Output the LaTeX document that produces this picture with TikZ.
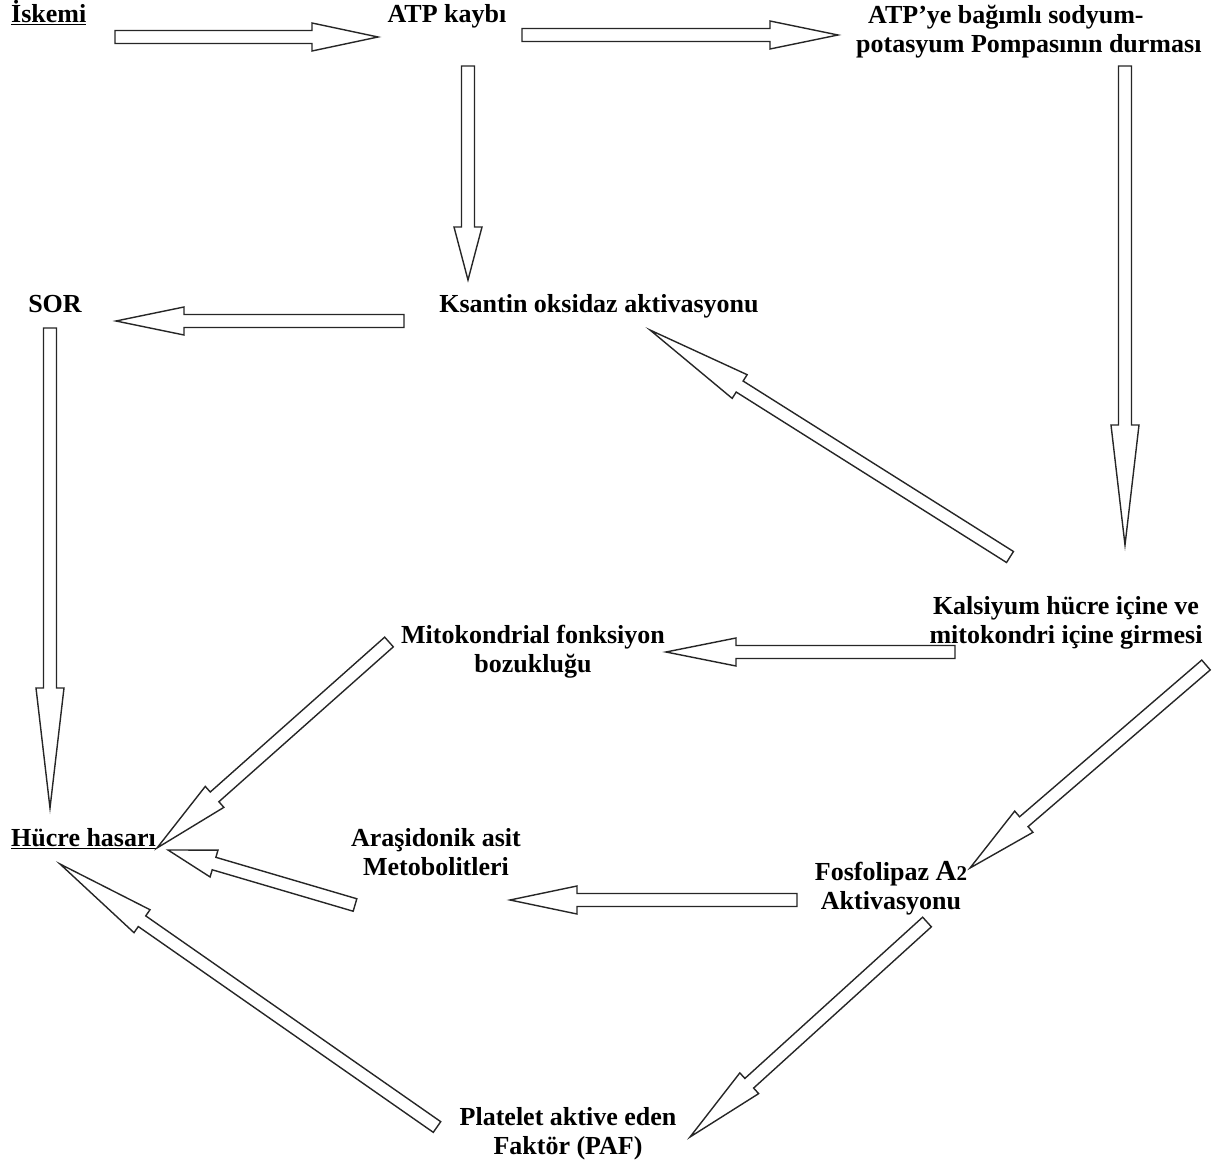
\documentclass[tikz,border=0pt]{standalone}
\usepackage{fontspec}
\setmainfont{Liberation Serif}
\usepackage{tikz}
\usetikzlibrary{calc,positioning}
\tikzset{
  lbl/.style ={font=\fontsize{26}{29}\selectfont\bfseries, inner sep=0pt, align=center},
  ulbl/.style={lbl, anchor=base west},
  blk/.style ={draw=black!85, line width=1.4pt, fill=white, line join=miter},
}
% hollow block arrow: tail, tip, head length
\newcommand\blockarrow[3]{%
  \coordinate (hb) at ($(#2)!#3pt!(#1)$);
  \draw[blk] ($(#1)!6.5pt!90:(#2)$) -- ($(hb)!6.5pt!90:(#2)$) -- ($(hb)!14pt!90:(#2)$)
    -- (#2) -- ($(hb)!14pt!-90:(#2)$) -- ($(hb)!6.5pt!-90:(#2)$) -- ($(#1)!6.5pt!-90:(#2)$) -- cycle;}
\newcommand\ul[1]{\underline{#1}}
\begin{document}
\begin{tikzpicture}[x=1pt,y=-1pt]
  \useasboundingbox (0,0) rectangle (1227,1166);
  % texts
  \node[ulbl] (isk) at (11,23) {\ul{İskemi}};
  \node[lbl,anchor=base] (atp) at (447,23) {ATP kaybı};
  \node[lbl,anchor=north west,align=left] (pompa) at (856,5) {\hspace*{12pt}ATP’ye bağımlı sodyum-\\potasyum Pompasının durması};
  \node[lbl,anchor=base] (sor) at (55,313) {SOR};
  \node[lbl,anchor=base] (ksan) at (599,313) {Ksantin oksidaz aktivasyonu};
  \node[lbl,anchor=north] (kals) at (1066,596) {Kalsiyum hücre içine ve\\mitokondri içine girmesi};
  \node[lbl,anchor=north] (mito) at (533,625) {Mitokondrial fonksiyon\\bozukluğu};
  \node[ulbl] (hucre) at (11,846) {\ul{Hücre hasarı}};
  \node[lbl,anchor=north] (aras) at (436,828) {Araşidonik asit\\Metobolitleri};
  \node[lbl,anchor=north] (fosfo) at (891,861) {Fosfolipaz {\fontsize{29}{29}\selectfont A}{\fontsize{21}{29}\selectfont 2}\\Aktivasyonu};
  \node[lbl,anchor=north] (paf) at (568,1107) {Platelet aktive eden\\Faktör (PAF)};
  % arrow ends
  \coordinate (isk-o) at (115,37);   \coordinate (atp-i) at (378,37);
  \coordinate (atp-o) at (522,35);   \coordinate (pom-i) at (838,35);
  \coordinate (atp-d) at (468,66);   \coordinate (ksa-i) at (468,280);
  \coordinate (pom-o) at (1125,66);  \coordinate (kal-i) at (1125,545);
  \coordinate (ksa-o) at (404,321);  \coordinate (sor-i) at (116,321);
  \coordinate (sor-o) at (50,328);   \coordinate (huc-t) at (50,808);
  \coordinate (kal-k) at (1010,557); \coordinate (ksa-r) at (650,330);
  \coordinate (kal-m) at (955,652);  \coordinate (mit-i) at (666,652);
  \coordinate (mit-o) at (389,642);  \coordinate (huc-r) at (157,848);
  \coordinate (kal-f) at (1206,665); \coordinate (fos-i) at (970,868);
  \coordinate (ara-o) at (355,905);  \coordinate (huc-a) at (168,850);
  \coordinate (fos-a) at (797,900);  \coordinate (ara-i) at (510,900);
  \coordinate (fos-p) at (927,922);  \coordinate (paf-i) at (690,1137);
  \coordinate (paf-o) at (437,1127); \coordinate (huc-b) at (60,864);
  % arrows
  \blockarrow{isk-o}{atp-i}{66}
  \blockarrow{atp-o}{pom-i}{68}
  \blockarrow{atp-d}{ksa-i}{53}
  \blockarrow{pom-o}{kal-i}{120}
  \blockarrow{ksa-o}{sor-i}{68}
  \blockarrow{sor-o}{huc-t}{120}
  \blockarrow{kal-k}{ksa-r}{106}
  \blockarrow{kal-m}{mit-i}{70}
  \blockarrow{mit-o}{huc-r}{77}
  \blockarrow{kal-f}{fos-i}{71}
  \blockarrow{ara-o}{huc-a}{48}
  \blockarrow{fos-a}{ara-i}{67}
  \blockarrow{fos-p}{paf-i}{80}
  \blockarrow{paf-o}{huc-b}{100}
\end{tikzpicture}
\end{document}
